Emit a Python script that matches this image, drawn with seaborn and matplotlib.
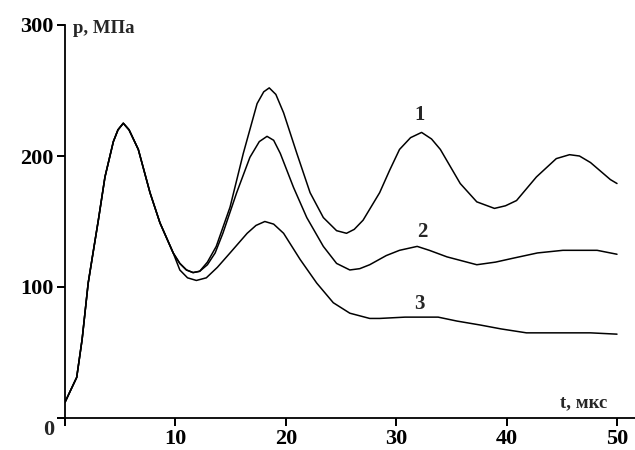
import matplotlib
matplotlib.use("Agg")
import matplotlib.pyplot as plt
import seaborn as sns
import pandas as pd

# common initial segment (all curves coincide)
t_common = [0, 0.5, 1.06, 1.55, 2.1, 2.5, 3.02, 3.62, 4.38, 4.8, 5.28, 5.8, 6.64, 7.7, 8.6, 9.8]
p_common = [12, 21, 31, 60, 103, 124, 151, 184, 211, 220, 225, 220, 205, 172, 149, 126]

t1 = [10.4, 11.0, 11.6, 12.2, 12.9, 13.7, 14.95, 16.15, 17.4, 18.0, 18.5, 19.1, 19.8, 21.0, 22.2,
      23.4, 24.6, 25.5, 26.2, 27.0, 28.5, 29.4, 30.3, 31.3, 32.3, 33.2, 34.0, 35.8, 37.3, 38.9,
      39.9, 40.9, 42.7, 44.5, 45.7, 46.6, 47.6, 49.4, 50.0]
p1 = [118, 113, 111, 112, 119, 131, 161, 202, 240, 249, 252, 247, 233, 202, 172,
      153, 143, 141, 144, 151, 172, 189, 205, 214, 218, 213, 205, 179, 165, 160,
      162, 166, 184, 198, 201, 200, 195, 182, 179]

t2 = [10.4, 11.0, 11.6, 12.2, 12.9, 13.6, 14.3, 15.55, 16.75, 17.6, 18.3, 18.9, 19.5, 20.7, 21.9,
      23.4, 24.6, 25.8, 26.7, 27.6, 29.1, 30.3, 31.9, 33.0, 34.6, 37.3, 39.0, 40.6, 42.8, 45.1,
      48.2, 50.0]
p2 = [118, 113, 111, 112, 117, 126, 141, 172, 199, 211, 215, 212, 202, 176, 153,
      131, 118, 113, 114, 117, 124, 128, 131, 128, 123, 117, 119, 122, 126, 128,
      128, 125]

t3 = [10.4, 11.1, 11.9, 12.8, 13.8, 14.95, 16.5, 17.3, 18.1, 18.9, 19.8, 21.3, 22.8, 24.3, 25.8,
      27.6, 28.5, 30.8, 33.8, 35.5, 37.6, 39.5, 41.8, 44.0, 47.6, 50.0]
p3 = [113, 107, 105, 107, 115, 126, 141, 147, 150, 148, 141, 121, 103, 88, 80,
      76, 76, 77, 77, 74, 71, 68, 65, 65, 65, 64]

curve_names = ["1", "2", "3"]
x_ticks = [10, 20, 30, 40, 50]
y_ticks = [100, 200, 300]

rows = []
for name, ts, ps in zip(curve_names, [t1, t2, t3], [p1, p2, p3]):
    for t, p in zip(t_common + ts, p_common + ps):
        rows.append({"t": t, "p": p, "curve": name})
df = pd.DataFrame(rows)

sns.set_style("ticks")
plt.rcParams["font.family"] = ["Liberation Serif", "DejaVu Serif"]

fig = plt.figure(figsize=(6.35, 4.5), dpi=100)
ax = fig.add_axes([65 / 635, 1 - 418 / 450, (635 - 65) / 635, (418 - 25) / 450])

sns.lineplot(data=df, x="t", y="p", hue="curve", units="curve", estimator=None, sort=False,
             palette={"1": "black", "2": "black", "3": "black"}, linewidth=1.1,
             legend=False, ax=ax)

ax.set_xlim(0, (635 - 65) / 11.04)
ax.set_ylim(0, 300)
ax.set_xticks([0] + x_ticks)
ax.set_xticklabels([""] + [str(v) for v in x_ticks])
ax.set_yticks([0] + y_ticks)
ax.set_yticklabels([""] + [str(v) for v in y_ticks])
ax.set_xlabel("")
ax.set_ylabel("")
ax.xaxis.set_ticks_position("bottom")
ax.yaxis.set_ticks_position("left")

for s in ["top", "right"]:
    ax.spines[s].set_visible(False)
for s in ["left", "bottom"]:
    ax.spines[s].set_linewidth(1.3)
    ax.spines[s].set_color("black")
ax.tick_params(axis="both", which="major", direction="out",
               length=6, width=1.3, colors="black", labelsize=16, pad=2)
for lab in ax.get_xticklabels() + ax.get_yticklabels():
    lab.set_fontweight("bold")

# explicit tick marks (guarantees they are rendered)
ax.vlines([0] + x_ticks, 0, -8 / 393, transform=ax.get_xaxis_transform(),
          colors="black", linewidth=1.3, clip_on=False)
ax.hlines([0] + y_ticks, -8 / 570, 0, transform=ax.get_yaxis_transform(),
          colors="black", linewidth=1.3, clip_on=False)

ax.text(0.72, 294, "p, МПа", fontsize=13.5, fontweight="bold", ha="left", va="baseline")
ax.text(44.8, 8.4, "t, мкс", fontsize=13.5, fontweight="bold", ha="left", va="baseline")
ax.text(-1.45, -9.2, "0", fontsize=16, fontweight="bold", ha="center", va="center", clip_on=False)

for name, (tx, py) in zip(curve_names, [(32.1, 231), (32.4, 142), (32.1, 87)]):
    ax.text(tx, py, name, fontsize=15, fontweight="bold", ha="center", va="center")

fig.savefig("out.png", dpi=100, facecolor="white")
